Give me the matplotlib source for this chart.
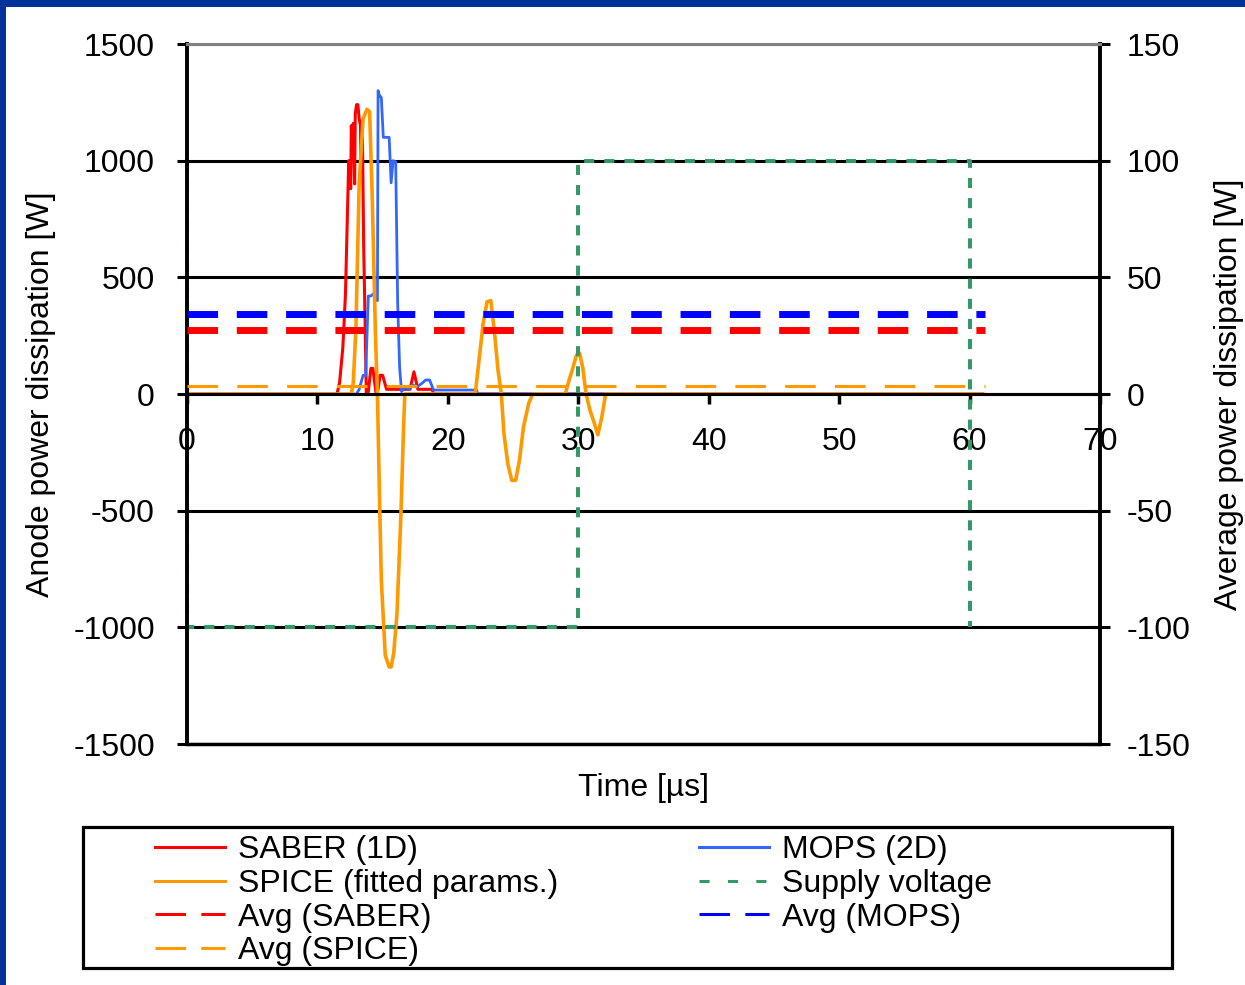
import matplotlib.pyplot as plt
from matplotlib.patches import Rectangle

plt.rcParams['font.family'] = ['Liberation Sans', 'DejaVu Sans']
plt.rcParams['axes.unicode_minus'] = False

# Time [us] / anode power [W]
t_saber = [0, 11.5, 11.7, 11.95, 12.15, 12.4, 12.55, 12.6, 12.7, 12.75, 12.85, 12.9, 13.0,
           13.1, 13.2, 13.3, 13.35, 13.45, 13.55, 13.65, 13.75, 13.9, 14.1, 14.25, 14.5,
           14.65, 14.8, 15.0, 15.3, 15.45, 17.1, 17.4, 17.7, 18.8, 18.9, 61]
p_saber = [0, 0, 50, 200, 430, 1000, 880, 1150, 1000, 1160, 900, 1200, 1240,
           1240, 1180, 1150, 950, 1100, 620, 320, 0, 10, 110, 110, 0,
           20, 80, 80, 20, 20, 20, 95, 20, 20, 0, 0]

t_mops = [0, 13.0, 13.2, 13.5, 13.7, 13.9, 14.1, 14.3, 14.6, 14.65, 14.75, 14.9, 15.05,
          15.25, 15.5, 15.65, 15.8, 16.0, 16.15, 16.3, 16.45, 16.7, 17.0, 17.3, 17.6,
          18.0, 18.3, 18.6, 18.9, 22.2, 22.3, 61]
p_mops = [0, 0, 20, 80, 80, 420, 420, 430, 400, 1300, 1280, 1270, 1100,
          1100, 1100, 905, 1000, 995, 395, 115, 10, 30, 20, 40, 30,
          45, 60, 60, 17, 17, 0, 0]

t_spice = [0, 12.6, 12.75, 12.95, 13.2, 13.5, 13.8, 14.0, 14.2, 14.45, 14.6, 14.75, 14.9,
           15.2, 15.5, 15.65, 15.85, 16.1, 16.4, 16.6, 16.7, 22.1, 22.4, 22.7, 23.0,
           23.3, 23.6, 23.85, 24.1, 24.3, 24.6, 24.9, 25.2, 25.5, 25.8, 26.2, 26.5,
           29.0, 29.3, 29.6, 29.85, 30.1, 30.35, 30.6, 30.9, 31.2, 31.5, 31.8, 32.1, 61]
p_spice = [0, 0, 50, 280, 900, 1180, 1220, 1210, 850, 250, 0, -420, -800,
           -1120, -1170, -1170, -1110, -940, -520, -150, 0, 0, 150, 300, 395,
           400, 250, 100, 0, -170, -300, -370, -370, -280, -140, -40, 0,
           0, 60, 115, 165, 175, 110, 0, -70, -120, -175, -100, 0, 0]

t_supply = [0, 0, 30, 30, 60, 60]
v_supply = [1000, -1000, -1000, 1000, 1000, -1000]

# averages (right axis)
t_avg = [0, 61.2]
avg_saber = 27.4
avg_mops = 34.3
avg_spice = 3.5

left_ticks = [-1500, -1000, -500, 0, 500, 1000, 1500]
right_ticks = [-150, -100, -50, 0, 50, 100, 150]
x_ticks = [0, 10, 20, 30, 40, 50, 60, 70]

fs = 23

fig = plt.figure(figsize=(12.45, 9.85), dpi=100)
ax = fig.add_axes([187 / 1245, 1 - 744 / 985, 913 / 1245, 700 / 985])
ax2 = ax.twinx()

l_saber, = ax.plot(t_saber, p_saber, color='#FF0000', lw=2.2, label='SABER (1D)')
l_mops, = ax.plot(t_mops, p_mops, color='#3366FF', lw=2.0, label='MOPS (2D)')
l_spice, = ax.plot(t_spice, p_spice, color='#FF9900', lw=2.6, label='SPICE (fitted params.)')
l_sup, = ax.plot(t_supply, v_supply, color='#339966', lw=2.9, linestyle=(0, (2.5, 2.5)),
                 label='Supply voltage')

a_saber, = ax2.plot(t_avg, [avg_saber] * 2, color='#FF0000', lw=5, linestyle=(0, (4.4, 2.7)),
                    label='Avg (SABER)')
a_mops, = ax2.plot(t_avg, [avg_mops] * 2, color='#0000FF', lw=5, linestyle=(0, (4.4, 2.7)),
                   label='Avg (MOPS)')
a_spice, = ax2.plot(t_avg, [avg_spice] * 2, color='#FF9900', lw=2.2, linestyle=(0, (10, 6.3)),
                    label='Avg (SPICE)')

ax.set_xlim(0, 70)
ax.set_ylim(-1500, 1500)
ax2.set_ylim(-150, 150)
ax.set_xticks(x_ticks)
ax.set_yticks(left_ticks)
ax2.set_yticks(right_ticks)

ax.yaxis.grid(True, color='black', lw=2.2)
ax.spines['bottom'].set_position(('data', 0))
ax.spines['bottom'].set_linewidth(2.2)
ax.spines['left'].set_linewidth(2.8)
ax.spines['top'].set_visible(False)
ax.spines['right'].set_visible(False)
ax2.spines['left'].set_visible(False)
ax2.spines['top'].set_color('#808080')
ax2.spines['top'].set_linewidth(2.2)
ax2.spines['bottom'].set_linewidth(2.5)
ax2.spines['right'].set_linewidth(2.8)

ax.tick_params(axis='y', direction='out', length=7.2, width=2.2, pad=16, labelsize=fs)
ax.tick_params(axis='x', direction='out', length=7, width=2.5, pad=17, labelsize=fs)
ax2.tick_params(axis='y', direction='inout', length=14.4, width=2.2, pad=12, labelsize=fs)

ax.set_xlabel('Time [µs]', fontsize=fs)
ax.xaxis.set_label_coords(0.5, -0.042)
ax.set_ylabel('Anode power dissipation [W]', fontsize=fs)
ax.yaxis.label.set_va('center')
ax.yaxis.set_label_coords(-0.16, 0.5)
ax2.set_ylabel('Average power dissipation [W]', fontsize=fs)
ax2.yaxis.label.set_va('center')
ax2.yaxis.set_label_coords(1.141, 0.5)

handles = [l_saber, l_spice, a_saber, a_spice, l_mops, l_sup, a_mops]
leg = ax2.legend(handles=handles, ncol=2, loc='upper left', frameon=False,
                 bbox_to_anchor=(155 / 1245, 1 - 835 / 985), bbox_transform=fig.transFigure,
                 fontsize=fs, handlelength=2.2, handletextpad=0.4, columnspacing=4.4,
                 labelspacing=0.12, borderpad=0, borderaxespad=0)
for h in leg.get_lines():
    h.set_linewidth(2.2)
    if h.get_label().startswith('Avg'):
        h.set_dashes((10, 5))
    elif h.get_label() == 'Supply voltage':
        h.set_dashes((3.3, 6))

fig.add_artist(Rectangle((83 / 1245, 1 - 968 / 985), (1172 - 83) / 1245, (968 - 827) / 985,
                         transform=fig.transFigure, fill=False, edgecolor='black', lw=2.3))
# slide frame
fig.add_artist(Rectangle((0, 1 - 7 / 985), 1, 7 / 985, transform=fig.transFigure,
                         color='#003399', lw=0))
fig.add_artist(Rectangle((0, 0), 6 / 1245, 1, transform=fig.transFigure,
                         color='#003399', lw=0))

fig.savefig('out.png', dpi=100)
